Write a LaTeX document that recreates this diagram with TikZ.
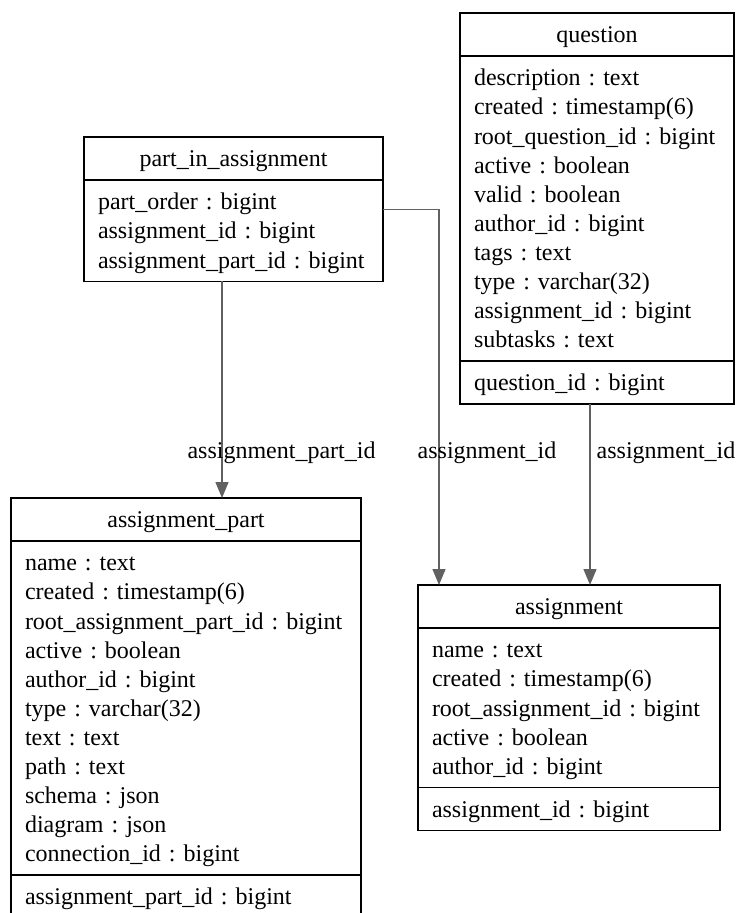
\documentclass[tikz,border=0pt]{standalone}
\usepackage{fontspec}
\setmainfont{Liberation Serif}
\usetikzlibrary{positioning,arrows.meta}
\colorlet{edgegr}{black!62}
\frenchspacing
\newcommand{\tblfont}{\fontsize{24}{29.1}\selectfont}
\newcommand{\rowstrut}{\rule[-6.4pt]{0pt}{29.1pt}}

\begin{document}
\begin{tikzpicture}[
        x=1pt, y=-1pt,
        every node/.append style={font=\tblfont, inner sep=0pt, outer sep=0pt},
        cell/.style={draw, line width=1.5pt, inner xsep=14pt, inner ysep=7pt,
            execute at begin node=\rowstrut, execute at end node=\rowstrut},
        tblhead/.style={cell, align=center},
        tblrows/.style={cell, align=left},
        fk/.style={edgegr, line width=1.4pt, -{Triangle[length=16pt,width=13pt]}},
        elabel/.style={anchor=base}
    ]
    \useasboundingbox (0,0) rectangle (740,913);

    % part_in_assignment
    \node[tblhead, text width=271pt, anchor=north west] (pia-head) at (84,137) {part\_in\_assignment};
    \node[tblrows, text width=271pt, below=0pt of pia-head] (pia-body) {part\_order : bigint\\
        assignment\_id : bigint\\
        assignment\_part\_id : bigint};

    % question
    \node[tblhead, text width=246pt, anchor=north west] (q-head) at (460,13) {question};
    \node[tblrows, text width=246pt, below=0pt of q-head] (q-body) {description : text\\
        created : timestamp(6)\\
        root\_question\_id : bigint\\
        active : boolean\\
        valid : boolean\\
        author\_id : bigint\\
        tags : text\\
        type : varchar(32)\\
        assignment\_id : bigint\\
        subtasks : text};
    \node[tblrows, text width=246pt, below=0pt of q-body] (q-key) {question\_id : bigint};

    % assignment_part
    \node[tblhead, text width=322pt, anchor=north west] (ap-head) at (11,498) {assignment\_part};
    \node[tblrows, text width=322pt, below=0pt of ap-head] (ap-body) {name : text\\
        created : timestamp(6)\\
        root\_assignment\_part\_id : bigint\\
        active : boolean\\
        author\_id : bigint\\
        type : varchar(32)\\
        text : text\\
        path : text\\
        schema : json\\
        diagram : json\\
        connection\_id : bigint};
    \node[tblrows, text width=322pt, below=0pt of ap-body] (ap-key) {assignment\_part\_id : bigint};

    % assignment
    \node[tblhead, text width=274pt, anchor=north west] (asg-head) at (418,585) {assignment};
    \node[tblrows, text width=274pt, below=0pt of asg-head] (asg-body) {name : text\\
        created : timestamp(6)\\
        root\_assignment\_id : bigint\\
        active : boolean\\
        author\_id : bigint};
    \node[tblrows, text width=274pt, below=0pt of asg-body] (asg-key) {assignment\_id : bigint};

    % foreign keys
    \coordinate (pia-out) at ([xshift=-11.5pt]pia-body.south);
    \coordinate (pia-right) at ([yshift=21pt]pia-body.east);
    \coordinate (asg-in) at ([xshift=-130pt]asg-head.north);
    \coordinate (q-out) at ([xshift=-7pt]q-key.south);

    \draw[fk] (pia-out) -- (pia-out |- ap-head.north);
    \draw[fk] (pia-right) -| (asg-in);
    \draw[fk] (q-out) -- (q-out |- asg-head.north);

    \node[elabel] (lbl-part) at (281.5,458) {assignment\_part\_id};
    \node[elabel] (lbl-asg) at (487,458) {assignment\_id};
    \node[elabel] (lbl-q) at (666,458) {assignment\_id};
\end{tikzpicture}
\end{document}
